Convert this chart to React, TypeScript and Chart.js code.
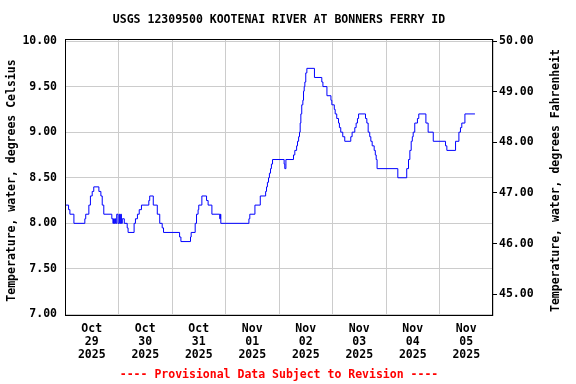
import React, { useEffect, useRef } from 'react';
import { Chart, registerables } from 'chart.js';

Chart.register(...registerables);

const chartTitle = 'USGS 12309500 KOOTENAI RIVER AT BONNERS FERRY ID';
const leftAxisTitle = 'Temperature, water, degrees Celsius';
const rightAxisTitle = 'Temperature, water, degrees Fahrenheit';
const footerText = '---- Provisional Data Subject to Revision ----';

const dayLabels: string[][] = [
  ['Oct', '29', '2025'],
  ['Oct', '30', '2025'],
  ['Oct', '31', '2025'],
  ['Nov', '01', '2025'],
  ['Nov', '02', '2025'],
  ['Nov', '03', '2025'],
  ['Nov', '04', '2025'],
  ['Nov', '05', '2025'],
];

const celsiusTicks = [7.0, 7.5, 8.0, 8.5, 9.0, 9.5, 10.0];
const fahrenheitTicks = [45, 46, 47, 48, 49, 50];
const celsiusMin = 6.9835;
const celsiusMax = 10.022;

// hours since 2025-10-29 00:00 at which the reading changes to the value below
const readingHours = [
  0, 1.6, 2.2, 4.0, 8.9, 9.3, 10.7, 11.4, 12.2, 12.9, 15.2, 16.1, 16.7, 17.4,
  21.0, 21.5, 21.8, 22.1, 22.4, 22.7, 23.2, 23.8, 24.4, 24.7, 25.0, 25.3, 25.7, 26.6,
  27.9, 28.3, 31.0, 31.6, 32.5, 33.3, 34.3, 37.6, 38.0, 39.6, 41.4, 42.5, 43.6, 44.2,
  51.4, 52.0, 56.3, 56.6, 58.4, 59.0, 59.7, 60.0, 61.4, 63.5, 64.2, 65.9, 69.4, 69.7, 69.9,
  82.5, 82.9, 85.2, 87.6, 90.0, 90.4, 90.8, 91.3, 91.7, 92.2, 92.6, 93.1, 98.3, 98.6, 99.1,
  102.5, 103.1, 103.9, 104.3, 104.8, 105.2, 105.5, 105.8, 106.2, 106.7, 107.0, 107.3, 107.6,
  108.0, 108.5, 111.9, 115.2, 115.7, 117.5, 119.3, 119.7, 120.8, 121.2, 121.9, 122.7, 123.1,
  123.7, 124.6, 125.5, 128.2, 128.8, 130.0, 130.6, 131.2, 131.7, 134.8, 135.4, 136.0, 136.7,
  137.2, 137.8, 138.7, 139.2, 139.6, 140.0, 149.3, 153.3, 154.1, 154.7, 155.3, 155.8, 156.2,
  156.9, 158.1, 158.7, 161.9, 162.9, 165.2, 170.7, 171.3, 175.2, 176.7, 177.4, 178.0, 179.4, 183.9,
];

const tempC = [
  8.2, 8.15, 8.1, 8.0, 8.05, 8.1, 8.2, 8.3, 8.35, 8.4, 8.35, 8.3, 8.2, 8.1,
  8.05, 8.0, 8.05, 8.0, 8.05, 8.0, 8.1, 8.0, 8.1, 8.0, 8.1, 8.0, 8.05, 8.0,
  7.95, 7.9, 8.0, 8.05, 8.1, 8.15, 8.2, 8.25, 8.3, 8.2, 8.1, 8.0, 7.95, 7.9,
  7.85, 7.8, 7.85, 7.9, 8.0, 8.1, 8.15, 8.2, 8.3, 8.25, 8.2, 8.1, 8.05, 8.1, 8.0,
  8.05, 8.1, 8.2, 8.3, 8.35, 8.4, 8.45, 8.5, 8.55, 8.6, 8.65, 8.7, 8.65, 8.6, 8.7,
  8.75, 8.8, 8.85, 8.9, 8.95, 9.0, 9.1, 9.2, 9.3, 9.35, 9.45, 9.5, 9.55,
  9.65, 9.7, 9.6, 9.55, 9.5, 9.4, 9.35, 9.3, 9.25, 9.2, 9.15, 9.1, 9.05,
  9.0, 8.95, 8.9, 8.95, 9.0, 9.05, 9.1, 9.15, 9.2, 9.15, 9.1, 9.0, 8.95,
  8.9, 8.85, 8.8, 8.75, 8.7, 8.6, 8.5, 8.6, 8.7, 8.8, 8.9, 8.95, 9.0,
  9.1, 9.15, 9.2, 9.1, 9.0, 8.9, 8.85, 8.8, 8.9, 9.0, 9.05, 9.1, 9.2, 9.2,
];

const FONT = "'DejaVu Sans Mono', monospace";
const toF = (c: number) => c * 1.8 + 32;

export default function App() {
  const canvasRef = useRef<HTMLCanvasElement | null>(null);

  useEffect(() => {
    const canvas = canvasRef.current;
    if (!canvas) return;

    const decor = {
      id: 'decor',
      afterDraw(chart: any) {
        const { ctx, chartArea } = chart;
        const { left, top, right, bottom } = chartArea;
        const cx = (left + right) / 2;
        const cy = (top + bottom) / 2;
        ctx.save();
        ctx.strokeStyle = '#000';
        ctx.lineWidth = 1;
        ctx.strokeRect(left + 0.5, top + 0.5, right - left - 1, bottom - top - 1);
        ctx.font = `bold 11.5px ${FONT}`;
        ctx.textAlign = 'center';
        ctx.textBaseline = 'middle';
        ctx.fillStyle = '#000';
        ctx.fillText(chartTitle, cx, 20);
        ctx.save();
        ctx.translate(12, cy + 3);
        ctx.rotate(-Math.PI / 2);
        ctx.fillText(leftAxisTitle, 0, 0);
        ctx.restore();
        ctx.save();
        ctx.translate(556, cy + 3);
        ctx.rotate(-Math.PI / 2);
        ctx.fillText(rightAxisTitle, 0, 0);
        ctx.restore();
        ctx.fillStyle = '#ff0000';
        ctx.fillText(footerText, cx, 375);
        ctx.restore();
      },
    };

    const chart = new Chart(canvas, {
      type: 'line',
      data: {
        datasets: [
          {
            data: readingHours.map((h, i) => ({ x: h, y: tempC[i] })),
            borderColor: '#0000ff',
            borderWidth: 1,
            pointRadius: 0,
            stepped: true,
            fill: false,
            yAxisID: 'y',
            xAxisID: 'x',
          },
        ],
      },
      options: {
        animation: false,
        responsive: false,
        maintainAspectRatio: false,
        layout: { padding: { top: 39, left: 0, right: 0, bottom: 0 } },
        plugins: {
          legend: { display: false },
          tooltip: { enabled: false },
          title: { display: false },
        },
        scales: {
          x: {
            type: 'linear',
            min: 0,
            max: dayLabels.length * 24,
            afterBuildTicks: (scale: any) => {
              const t = [];
              for (let i = 0; i <= dayLabels.length * 2; i++) t.push({ value: i * 12 });
              scale.ticks = t;
            },
            afterFit: (scale: any) => {
              scale.height = 68;
            },
            border: { display: false },
            grid: {
              color: (ctx: any) =>
                ctx.tick && ctx.tick.value % 24 === 0 ? '#cccccc' : 'rgba(0,0,0,0)',
              drawTicks: false,
              lineWidth: 1,
            },
            ticks: {
              autoSkip: false,
              maxRotation: 0,
              minRotation: 0,
              padding: 7,
              color: '#000',
              font: { family: FONT, size: 11.5, weight: 'bold', lineHeight: 1.13 },
              callback: (value: any) => {
                const v = Number(value);
                if (v % 24 === 12) {
                  const idx = (v - 12) / 24;
                  return dayLabels[idx] || '';
                }
                return '';
              },
            },
          },
          y: {
            type: 'linear',
            position: 'left',
            min: celsiusMin,
            max: celsiusMax,
            afterBuildTicks: (scale: any) => {
              scale.ticks = celsiusTicks.map((v) => ({ value: v }));
            },
            afterFit: (scale: any) => {
              scale.width = 65;
            },
            border: { display: false },
            grid: { color: '#cccccc', drawTicks: false, lineWidth: 1 },
            ticks: {
              padding: 8,
              color: '#000',
              font: { family: FONT, size: 11.5, weight: 'bold' },
              callback: (value: any) => Number(value).toFixed(2),
            },
          },
          y1: {
            type: 'linear',
            position: 'right',
            display: true,
            min: toF(celsiusMin),
            max: toF(celsiusMax),
            afterBuildTicks: (scale: any) => {
              scale.ticks = fahrenheitTicks.map((v) => ({ value: v }));
            },
            afterFit: (scale: any) => {
              scale.width = 83;
            },
            border: { display: false },
            grid: { drawOnChartArea: false, color: '#000', tickLength: 4, lineWidth: 1 },
            ticks: {
              padding: 2,
              color: '#000',
              font: { family: FONT, size: 11.5, weight: 'bold' },
              callback: (value: any) => Number(value).toFixed(2),
            },
          },
        },
      },
      plugins: [decor],
    } as any);

    return () => {
      chart.destroy();
    };
  }, []);

  return (
    <div
      style={{
        position: 'fixed',
        left: 0,
        top: 0,
        width: 576,
        height: 384,
        background: '#fff',
      }}
    >
      <canvas ref={canvasRef} width={576} height={384} style={{ display: 'block' }} />
    </div>
  );
}
